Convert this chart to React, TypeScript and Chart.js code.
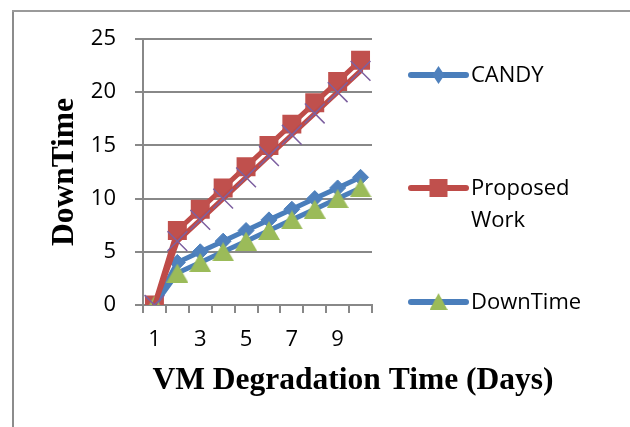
import React, { useEffect, useRef } from 'react';
import { Chart, registerables } from 'chart.js';

Chart.register(...registerables);

// ---- data ----
const categories = ['1', '2', '3', '4', '5', '6', '7', '8', '9', '10'];
const candy = [0, 4, 5, 6, 7, 8, 9, 10, 11, 12];
const proposedWork = [0, 7, 9, 11, 13, 15, 17, 19, 21, 23];
const downTime = [0, 3, 4, 5, 6, 7, 8, 9, 10, 11];
const series4 = [0, 6, 8, 10, 12, 14, 16, 18, 20, 22];
const yTicks = [0, 5, 10, 15, 20, 25];
const xTitle = 'VM Degradation Time (Days)';
const yTitle = 'DownTime';
const legendCandy = ['CANDY'];
const legendProposed = ['Proposed', 'Work'];
const legendDownTime = ['DownTime'];

// ---- styles ----
const BLUE_LINE = '#4A7EBB';
const BLUE = '#4F81BD';
const RED_LINE = '#BE4B48';
const RED = '#C0504D';
const GREEN = '#9BBB59';
const PURPLE = '#7D60A0';
const GRID = '#888888';
const SANS = "'Open Sans', 'Liberation Sans', sans-serif";
const SERIF = "'Liberation Serif', 'Times New Roman', serif";

function makeTriangle(w: number, h: number, color: string) {
  const c = document.createElement('canvas');
  c.width = w;
  c.height = h;
  const g = c.getContext('2d')!;
  g.fillStyle = color;
  g.beginPath();
  g.moveTo(w / 2, 0);
  g.lineTo(w, h);
  g.lineTo(0, h);
  g.closePath();
  g.fill();
  return c;
}

export default function App() {
  const ref = useRef<HTMLCanvasElement>(null);

  useEffect(() => {
    const tri = makeTriangle(22, 19, GREEN);

    const legendPlugin = {
      id: 'sideLegend',
      afterDraw(chart: any) {
        const ctx = chart.ctx as CanvasRenderingContext2D;
        const x0 = 411;
        const x1 = 466;
        const mx = (x0 + x1) / 2;
        const tx = 471;
        const items = [
          { lines: legendCandy, y: 75, color: BLUE_LINE, marker: 'diamond' },
          { lines: legendProposed, y: 188, color: RED_LINE, marker: 'square' },
          { lines: legendDownTime, y: 302, color: BLUE_LINE, marker: 'triangle' },
        ];
        ctx.save();
        items.forEach((it) => {
          ctx.strokeStyle = it.color;
          ctx.lineWidth = 6;
          ctx.lineCap = 'round';
          ctx.beginPath();
          ctx.moveTo(x0, it.y);
          ctx.lineTo(x1, it.y);
          ctx.stroke();
          if (it.marker === 'diamond') {
            ctx.fillStyle = BLUE;
            ctx.beginPath();
            ctx.moveTo(mx, it.y - 9);
            ctx.lineTo(mx + 6, it.y);
            ctx.lineTo(mx, it.y + 9);
            ctx.lineTo(mx - 6, it.y);
            ctx.closePath();
            ctx.fill();
          } else if (it.marker === 'square') {
            ctx.fillStyle = RED;
            ctx.fillRect(mx - 9, it.y - 9, 18, 18);
          } else {
            ctx.drawImage(tri, mx - 9, it.y - 9, 18, 17);
          }
          ctx.fillStyle = '#000';
          ctx.font = `22px ${SANS}`;
          ctx.textAlign = 'left';
          ctx.textBaseline = 'middle';
          it.lines.forEach((t, i) => ctx.fillText(t, tx, it.y + 1 + i * 32));
        });
        // x axis title
        ctx.font = `bold 31.5px ${SERIF}`;
        ctx.textAlign = 'center';
        ctx.textBaseline = 'middle';
        ctx.fillStyle = '#000';
        ctx.fillText(xTitle, 353, 381);
        ctx.restore();
      },
    };

    const common = {
      tension: 0,
      borderWidth: 5,
      borderJoinStyle: 'round',
      borderCapStyle: 'round',
      fill: false,
    };

    const chart = new Chart(ref.current!, {
      type: 'line',
      data: {
        labels: categories,
        datasets: [
          {
            ...common,
            label: 'CANDY',
            data: candy,
            borderColor: BLUE_LINE,
            backgroundColor: BLUE,
            pointStyle: 'rectRot',
            pointRadius: 8,
            pointBackgroundColor: BLUE,
            pointBorderColor: BLUE,
            pointBorderWidth: 1,
            order: 4,
          },
          {
            ...common,
            label: 'Proposed Work',
            data: proposedWork,
            borderColor: RED_LINE,
            backgroundColor: RED,
            pointStyle: 'rect',
            pointRadius: 13.4,
            pointBackgroundColor: RED,
            pointBorderColor: RED,
            pointBorderWidth: 0,
            order: 3,
          },
          {
            ...common,
            label: 'DownTime',
            data: downTime,
            borderColor: BLUE_LINE,
            backgroundColor: GREEN,
            pointStyle: tri,
            pointRadius: 10,
            order: 2,
          },
          {
            ...common,
            label: 'Series4',
            data: series4,
            borderColor: RED_LINE,
            backgroundColor: PURPLE,
            pointStyle: 'crossRot',
            pointRadius: 14,
            pointBorderColor: PURPLE,
            pointBorderWidth: 1.5,
            order: 1,
          },
        ],
      },
      options: {
        responsive: false,
        maintainAspectRatio: false,
        animation: false,
        devicePixelRatio: 1,
        layout: { padding: { left: 0, top: 39, right: 258, bottom: 0 } },
        plugins: {
          legend: { display: false },
          tooltip: { enabled: false },
          title: { display: false },
        },
        scales: {
          x: {
            type: 'category',
            offset: true,
            grid: {
              display: true,
              drawOnChartArea: false,
              drawTicks: true,
              tickLength: 8,
              offset: true,
              color: GRID,
              lineWidth: 2,
            },
            border: { display: true, color: GRID, width: 2 },
            ticks: {
              autoSkip: false,
              maxRotation: 0,
              minRotation: 0,
              padding: 14,
              color: '#000',
              font: { family: SANS, size: 22 },
              callback: (_v: any, i: number) => (i % 2 === 0 ? categories[i] : ''),
            },
            afterFit: (s: any) => {
              s.height = 427 - 305;
            },
          },
          y: {
            type: 'linear',
            min: 0,
            max: 25,
            afterBuildTicks: (s: any) => {
              s.ticks = yTicks.map((v) => ({ value: v }));
            },
            grid: { color: GRID, lineWidth: 2, tickLength: 8, drawTicks: true },
            border: { display: true, color: GRID, width: 2 },
            ticks: {
              padding: 19,
              color: '#000',
              font: { family: SANS, size: 22 },
            },
            title: {
              display: true,
              text: yTitle,
              color: '#000',
              font: { family: SERIF, size: 31.5, weight: 'bold' },
              padding: { top: 46, bottom: 0 },
            },
            afterFit: (s: any) => {
              s.width = 143;
            },
          },
        },
      } as any,
      plugins: [legendPlugin],
    } as any);

    return () => chart.destroy();
  }, []);

  return (
    <div
      style={{
        position: 'absolute',
        left: 0,
        top: 0,
        width: 630,
        height: 427,
        background: '#fff',
        overflow: 'hidden',
      }}
    >
      <canvas
        ref={ref}
        width={630}
        height={427}
        style={{ position: 'absolute', left: 0, top: 0, width: 630, height: 427 }}
      />
      <div
        style={{ position: 'absolute', left: 12, top: 10, width: 2, height: 417, background: '#8c8c8c' }}
      />
      <div
        style={{ position: 'absolute', left: 12, top: 10, width: 618, height: 2, background: '#9a9a9a' }}
      />
    </div>
  );
}
